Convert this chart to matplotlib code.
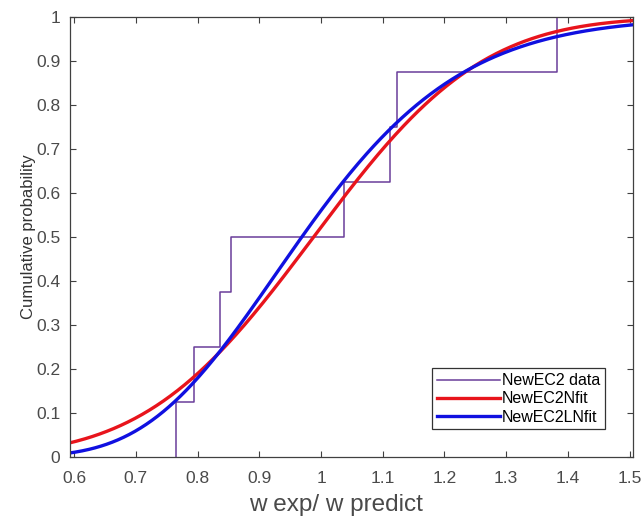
import math
import numpy as np
import matplotlib
matplotlib.use('Agg')
import matplotlib.pyplot as plt

plt.rcParams['font.family'] = ['Liberation Sans', 'DejaVu Sans']

# sorted sample values (w exp / w predict)
data = [0.7643, 0.7945, 0.836, 0.8535, 1.0376, 1.1117, 1.1226, 1.3818]
labels = ['NewEC2 data', 'NewEC2Nfit', 'NewEC2LNfit']
xticks = [0.6, 0.7, 0.8, 0.9, 1.0, 1.1, 1.2, 1.3, 1.4, 1.5]
yticks = [0, 0.1, 0.2, 0.3, 0.4, 0.5, 0.6, 0.7, 0.8, 0.9, 1]

d = np.array(data)
n = len(d)

# normal and lognormal fits (unbiased sigma, like normfit/lognfit)
mu_n, sd_n = d.mean(), d.std(ddof=1)
ld = np.log(d)
mu_l, sd_l = ld.mean(), ld.std(ddof=1)

def ncdf(z):
    return 0.5 * (1 + np.vectorize(math.erf)(z / math.sqrt(2)))

xs = np.linspace(0.59, 1.51, 400)
cdf_n = ncdf((xs - mu_n) / sd_n)
cdf_l = ncdf((np.log(xs) - mu_l) / sd_l)

fig = plt.figure(figsize=(6.41, 5.20), dpi=100)
ax = fig.add_axes([0.109, 0.121, 0.878, 0.846])

sx = [d[0]] + list(d)
sy = [0] + [(i + 1) / n for i in range(n)]
ax.step(sx, sy, where='post', color='#6a3d9a', lw=1.1, label=labels[0])
ax.plot(xs, cdf_n, color='#e8141c', lw=2.4, label=labels[1])
ax.plot(xs, cdf_l, color='#1010e0', lw=2.4, label=labels[2])

ax.set_xlim(0.593, 1.505)
ax.set_ylim(0, 1)
ax.set_xticks(xticks)
ax.set_xticklabels(['0.6', '0.7', '0.8', '0.9', '1', '1.1', '1.2', '1.3', '1.4', '1.5'])
ax.set_yticks(yticks)
ax.set_yticklabels(['0', '0.1', '0.2', '0.3', '0.4', '0.5', '0.6', '0.7', '0.8', '0.9', '1'])
ax.tick_params(direction='in', top=True, right=True, length=4, width=0.8,
               colors='#404040', labelsize=12.5, labelcolor='#4a4a4a')
ax.tick_params(axis='x', pad=10)
ax.tick_params(axis='y', pad=7)
for s in ax.spines.values():
    s.set_color('#404040')
    s.set_linewidth(0.9)

ax.set_xlabel('w exp/ w predict', fontsize=17.5, color='#4a4a4a')
ax.xaxis.set_label_coords(0.472, -0.083)
ax.set_ylabel('Cumulative probability', fontsize=12, color='#333333', labelpad=0)

leg = ax.legend(loc='lower right', bbox_to_anchor=(0.951, 0.063), borderaxespad=0,
                fontsize=11.5, handlelength=4.0, handletextpad=0.1, labelspacing=0.2,
                fancybox=False, edgecolor='#333333', framealpha=1, borderpad=0.3)
leg.get_frame().set_linewidth(0.9)

fig.savefig('out.png', dpi=100)
